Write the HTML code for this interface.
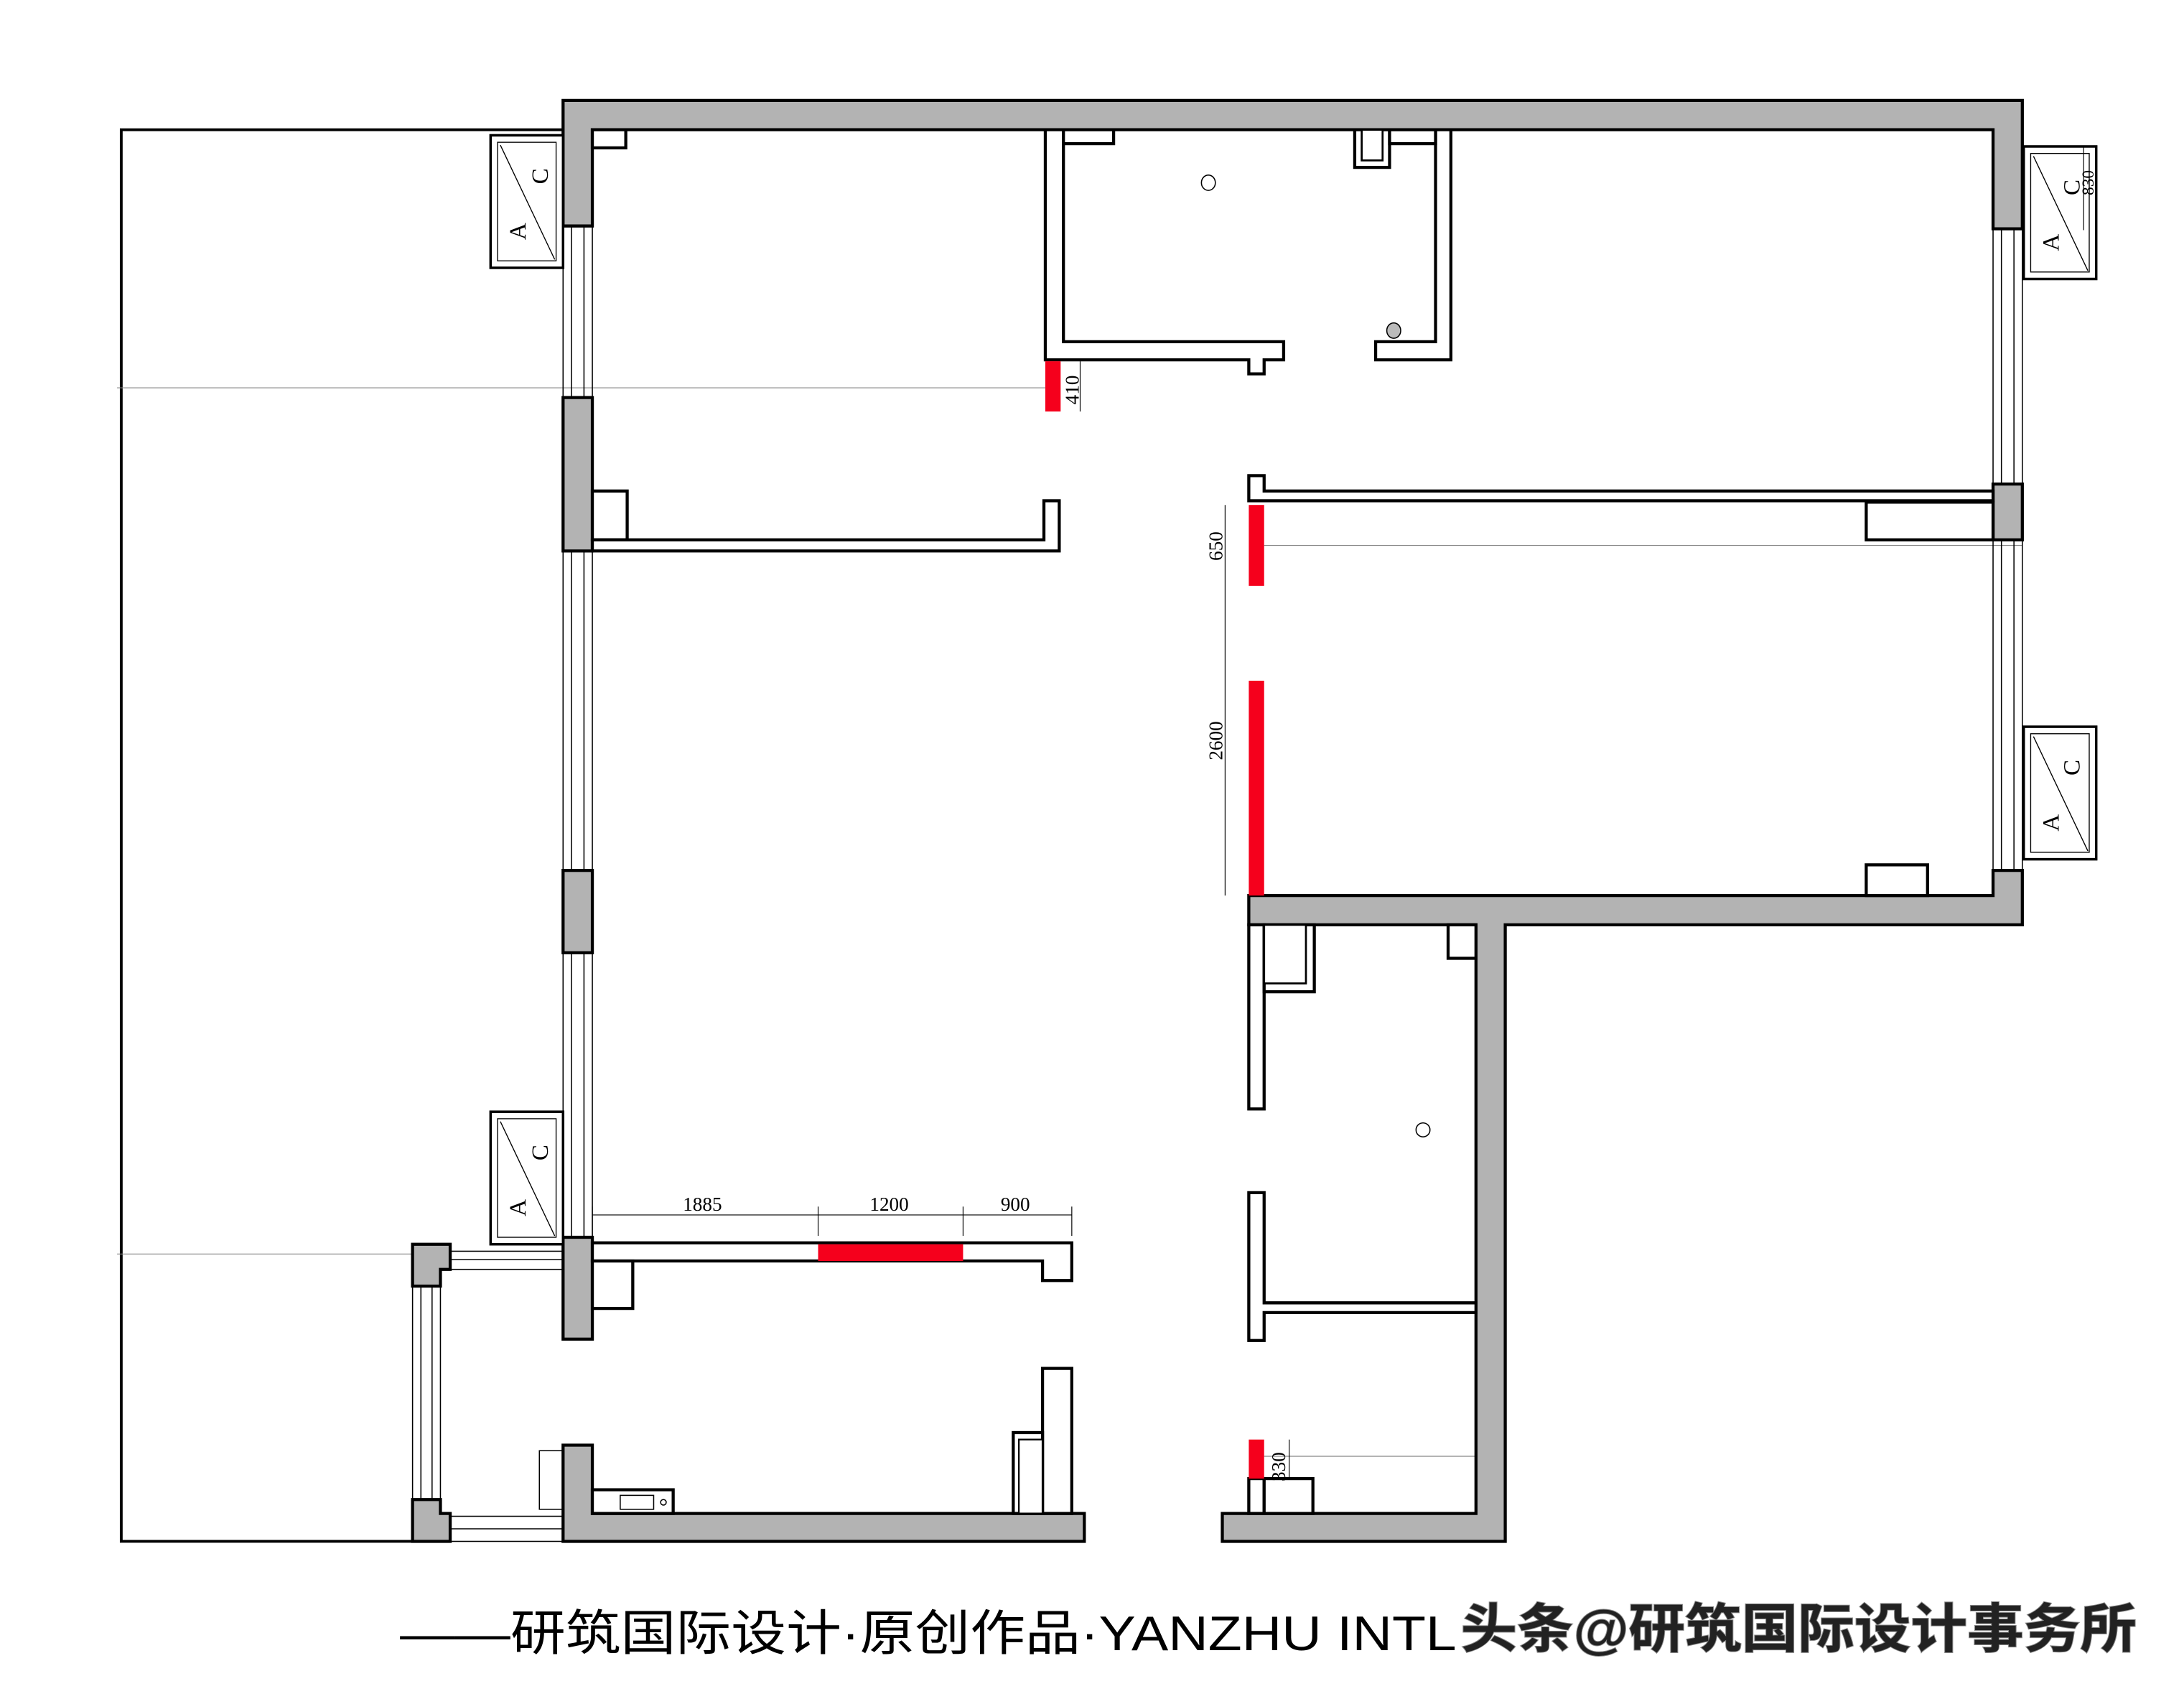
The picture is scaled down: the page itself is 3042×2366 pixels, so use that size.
<!DOCTYPE html>
<html><head><meta charset="utf-8"><style>
html,body{margin:0;padding:0;background:#fff;}
svg{display:block;}
</style></head><body>
<svg width="3042" height="2366" viewBox="0 0 1567 1218" preserveAspectRatio="none" xmlns="http://www.w3.org/2000/svg">
<g fill="none" stroke="#000" stroke-width="2">
<polyline points="404,93 87,93 87,1105 296,1105"/>
</g>
<g stroke="#888" stroke-width="0.6">
<line x1="84" y1="278" x2="750" y2="278"/>
<line x1="84" y1="899" x2="296" y2="899"/>
<line x1="907" y1="391" x2="1451" y2="391"/>
<line x1="907" y1="1044" x2="1080" y2="1044"/>
</g>
<g stroke="#000" stroke-width="0.8" fill="none">
<rect x="404" y="162" width="21" height="123"/><line x1="410" y1="162" x2="410" y2="285"/><line x1="419" y1="162" x2="419" y2="285"/>
<rect x="404" y="395" width="21" height="229"/><line x1="410" y1="395" x2="410" y2="624"/><line x1="419" y1="395" x2="419" y2="624"/>
<rect x="404" y="683" width="21" height="204"/><line x1="410" y1="683" x2="410" y2="887"/><line x1="419" y1="683" x2="419" y2="887"/>
<rect x="1430" y="164" width="21" height="183"/><line x1="1436" y1="164" x2="1436" y2="347"/><line x1="1445" y1="164" x2="1445" y2="347"/>
<rect x="1430" y="387" width="21" height="237"/><line x1="1436" y1="387" x2="1436" y2="624"/><line x1="1445" y1="387" x2="1445" y2="624"/>
<rect x="296" y="922" width="20" height="153"/><line x1="302" y1="922" x2="302" y2="1075"/><line x1="310" y1="922" x2="310" y2="1075"/>
<rect x="323" y="897" width="81" height="13"/><line x1="323" y1="903" x2="404" y2="903"/>
<rect x="323" y="1087" width="81" height="18"/><line x1="323" y1="1096" x2="404" y2="1096"/>
</g>
<g fill="#b3b3b3" stroke="#000" stroke-width="2.2">
<path d="M404,72 H1451 V164 H1430 V93 H425 V162 H404 Z"/>
<rect x="404" y="285" width="21" height="110"/>
<rect x="404" y="624" width="21" height="59"/>
<rect x="404" y="887" width="21" height="73"/>
<path d="M404,1036 H425 V1085 H778 V1105 H404 Z"/>
<rect x="1430" y="347" width="21" height="40"/>
<path d="M1430,624 H1451 V663 H1080 V1105 H877 V1085 H1059 V663 H896 V642 H1430 Z"/>
<path d="M296,892 H323 V910 H316 V922 H296 Z"/>
<path d="M296,1075 H316 V1085 H323 V1105 H296 Z"/>
</g>
<g fill="#fff" stroke="#000" stroke-width="1.8">
<rect x="352" y="97" width="52" height="95"/><rect x="352" y="797" width="52" height="95"/>
<rect x="1452" y="105" width="52" height="95"/><rect x="1452" y="521" width="52" height="95"/>
</g>
<g fill="none" stroke="#000" stroke-width="0.7">
<rect x="357" y="102" width="42" height="85"/><line x1="359" y1="104" x2="398" y2="186"/>
<rect x="357" y="802" width="42" height="85"/><line x1="359" y1="804" x2="398" y2="886"/>
<rect x="1457" y="110" width="42" height="85"/><line x1="1459" y1="112" x2="1498" y2="194"/>
<rect x="1457" y="526" width="42" height="85"/><line x1="1459" y1="528" x2="1498" y2="610"/>
</g>
<g font-family="Liberation Serif, serif" font-size="17" fill="#000">
<text transform="translate(377,172) rotate(-90)">A</text><text transform="translate(393,132) rotate(-90)">C</text>
<text transform="translate(377,872) rotate(-90)">A</text><text transform="translate(393,832) rotate(-90)">C</text>
<text transform="translate(1477,180) rotate(-90)">A</text><text transform="translate(1492,140) rotate(-90)">C</text>
<text transform="translate(1477,596) rotate(-90)">A</text><text transform="translate(1492,556) rotate(-90)">C</text>
</g>
<g fill="#fff" stroke="#000" stroke-width="2.2">
<rect x="425" y="93" width="24" height="13"/>
<rect x="425" y="352" width="25" height="35"/>
<path d="M425,387 H749 V359 H760 V395 H425 Z"/>
<path d="M750,93 V258 H896 V268 H907 V258 H921 V245 H763 V93 Z"/>
<rect x="763" y="93" width="36" height="10"/>
<path d="M1041,93 V258 H987 V245 H1030 V93 Z"/>
<rect x="972" y="93" width="25" height="27"/>
<rect x="977" y="93" width="15" height="22" stroke-width="1.4"/>
<rect x="997" y="93" width="33" height="10"/>
<path d="M896,341 H907 V352 H1430 V359 H896 Z"/>
<rect x="1339" y="360" width="91" height="27"/>
<rect x="1339" y="620" width="44" height="22"/>
<rect x="896" y="663" width="11" height="132"/>
<rect x="907" y="663" width="36" height="48"/>
<rect x="907" y="663" width="30" height="42" stroke-width="1.4"/>
<rect x="1039" y="663" width="20" height="24"/>
<path d="M896,855 H907 V934 H1059 V941 H907 V961 H896 Z"/>
<rect x="896" y="1060" width="11" height="25"/>
<rect x="907" y="1060" width="35" height="25"/>
<path d="M425,891 H769 V918 H748 V904 H425 Z"/>
<rect x="425" y="904" width="29" height="34"/>
<rect x="748" y="981" width="21" height="104"/>
<rect x="727" y="1027" width="21" height="58"/>
<rect x="731" y="1032" width="17" height="53" stroke-width="1.2"/>
<rect x="425" y="1068" width="58" height="17"/>
</g>
<g fill="none" stroke="#000" stroke-width="0.8">
<rect x="387" y="1040" width="17" height="42"/>
<rect x="445" y="1072" width="24" height="10"/>
<circle cx="476" cy="1077" r="2"/>
<ellipse cx="867" cy="131" rx="5" ry="5.5"/>
<ellipse cx="1021" cy="810" rx="5" ry="5"/>
</g>
<ellipse cx="1000" cy="237" rx="5" ry="5.5" fill="#bbb" stroke="#000" stroke-width="0.8"/>
<g fill="#f5001c">
<rect x="750" y="259" width="11" height="36"/>
<rect x="896" y="362" width="11" height="58"/>
<rect x="896" y="488" width="11" height="154"/>
<rect x="896" y="1032" width="11" height="28"/>
<rect x="587" y="892" width="104" height="12"/>
</g>
<g stroke="#000" stroke-width="0.6" fill="none">
<line x1="425" y1="871" x2="769" y2="871"/>
<line x1="425" y1="865" x2="425" y2="886"/><line x1="587" y1="865" x2="587" y2="886"/><line x1="691" y1="865" x2="691" y2="886"/><line x1="769" y1="865" x2="769" y2="886"/>
<line x1="775" y1="259" x2="775" y2="295"/>
<line x1="879" y1="362" x2="879" y2="642"/>
<line x1="925" y1="1032" x2="925" y2="1060"/>
<line x1="1495" y1="105" x2="1495" y2="165"/>
</g>
<g font-family="Liberation Serif, serif" font-size="14" fill="#000">
<text x="490" y="868">1885</text><text x="624" y="868">1200</text><text x="718" y="868">900</text>
<text transform="translate(774,290) rotate(-90)">410</text>
<text transform="translate(877,402) rotate(-90)">650</text>
<text transform="translate(877,545) rotate(-90)">2600</text>
<text transform="translate(922,1062) rotate(-90)">330</text>
<text transform="translate(1502,140) rotate(-90)" font-size="12">830</text>
</g>
<text x="287" y="1183" textLength="758" lengthAdjust="spacingAndGlyphs" font-family="Liberation Sans, 'Noto Sans CJK SC', sans-serif" font-size="35" fill="#000">——研筑国际设计·原创作品·YANZHU INTL</text>
<text x="1048" y="1181" textLength="485" lengthAdjust="spacingAndGlyphs" font-family="Liberation Sans, 'Noto Sans CJK SC', sans-serif" font-size="38" font-weight="bold" fill="#222" stroke="#888" stroke-width="1" paint-order="stroke">头条@研筑国际设计事务所</text>
</svg>
</body></html>
